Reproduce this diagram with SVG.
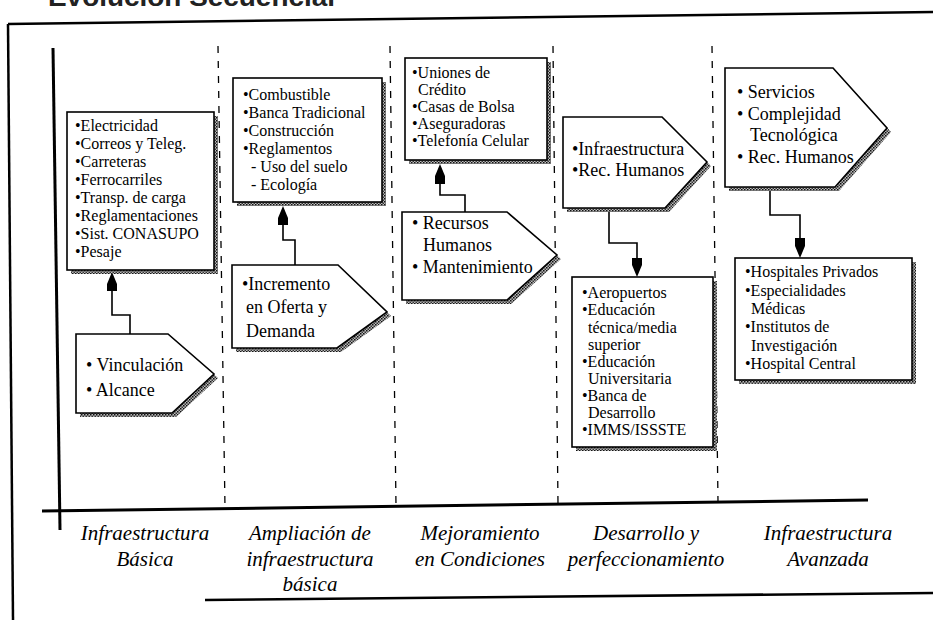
<svg xmlns="http://www.w3.org/2000/svg" width="933" height="620" viewBox="0 0 933 620">
  <defs>
    <pattern id="dither" width="3" height="3" patternUnits="userSpaceOnUse">
      <rect width="3" height="3" fill="#bbb"/>
      <rect width="1.5" height="1.5" fill="#111"/>
      <rect x="1.5" y="1.5" width="1.5" height="1.5" fill="#333"/>
    </pattern>
  </defs>
  <style>
    .frame { stroke: #000; stroke-width: 2.5; fill: none; }
    .axis { stroke: #000; stroke-width: 3; fill: none; }
    .divider { stroke: #000; stroke-width: 1.3; stroke-dasharray: 7 8; fill: none; }
    .box { fill: #fff; stroke: #000; stroke-width: 1.6; }
    .shadow { fill: url(#dither); stroke: none; }
    .link { fill: none; stroke: #000; stroke-width: 1.6; }
    .head { fill: #000; stroke: none; }
    .list { font-family: "Liberation Serif", "Times New Roman", serif; font-size: 16px; fill: #000; }
    .big { font-family: "Liberation Serif", "Times New Roman", serif; font-size: 18px; fill: #000; }
    .phase { font-family: "Liberation Serif", "Times New Roman", serif; font-size: 21px; font-style: italic; fill: #000; text-anchor: middle; }
    .title { font-family: "Liberation Sans", Arial, sans-serif; font-size: 26px; font-weight: bold; fill: #222; }
  </style>

  <!-- heading, cut by the page edge -->
  <text class="title" x="48" y="6" textLength="287" lengthAdjust="spacingAndGlyphs">Evolución Secuencial</text>

  <!-- page frame -->
  <g id="frame">
    <path class="frame" d="M8,24 L933,12"/>
    <path class="frame" d="M8,24 L13,620"/>
    <path class="frame" d="M205,600 L933,593"/>
  </g>

  <!-- time axes and phase dividers -->
  <g id="axes">
    <path class="axis" d="M53,48 L60,530"/>
    <path class="axis" d="M42,511 L868,500"/>
    <path class="divider" d="M218,46 L225,508"/>
    <path class="divider" d="M390,46 L396,506"/>
    <path class="divider" d="M553,46 L558,504"/>
    <path class="divider" d="M712,46 L718,502"/>
  </g>

  <!-- connectors -->
  <g id="connectors">
    <path class="link" d="M130,334 L130,315 L112,315 L112,288"/>
    <path class="head" d="M112,272 L117,284 L117,291 L107,291 L107,284 Z"/>

    <path class="link" d="M295,265 L295,240 L283,240 L283,222"/>
    <path class="head" d="M283,206 L288,218 L288,225 L278,225 L278,218 Z"/>

    <path class="link" d="M465,212 L465,195 L440,195 L440,182"/>
    <path class="head" d="M440,164 L445,176 L445,184 L435,184 L435,176 Z"/>

    <path class="link" d="M609,208 L609,243 L637,243 L637,260"/>
    <path class="head" d="M637,277 L642,265 L642,258 L632,258 L632,265 Z"/>

    <path class="link" d="M770,187 L770,215 L800,215 L800,240"/>
    <path class="head" d="M800,258 L805,246 L805,238 L795,238 L795,246 Z"/>
  </g>

  <!-- phase 1 -->
  <g id="basic-list">
    <rect class="shadow" x="71" y="116" width="147" height="158"/>
    <rect class="box" x="67" y="112" width="147" height="158"/>
    <text class="list" x="75" y="131">•Electricidad</text>
    <text class="list" x="75" y="149">•Correos y Teleg.</text>
    <text class="list" x="75" y="167">•Carreteras</text>
    <text class="list" x="75" y="185">•Ferrocarriles</text>
    <text class="list" x="75" y="203">•Transp. de carga</text>
    <text class="list" x="75" y="221">•Reglamentaciones</text>
    <text class="list" x="75" y="239">•Sist. CONASUPO</text>
    <text class="list" x="75" y="257">•Pesaje</text>
  </g>
  <g id="basic-drivers">
    <polygon class="shadow" points="80,338 172,338 218,378 176,417 80,417"/>
    <polygon class="box" points="76,334 168,334 214,374 172,413 76,413"/>
    <text class="big" x="86" y="371">• Vinculación</text>
    <text class="big" x="86" y="396">• Alcance</text>
  </g>

  <!-- phase 2 -->
  <g id="extension-list">
    <rect class="shadow" x="237" y="82" width="149" height="124"/>
    <rect class="box" x="233" y="78" width="149" height="124"/>
    <text class="list" x="243" y="100">•Combustible</text>
    <text class="list" x="243" y="118">•Banca Tradicional</text>
    <text class="list" x="243" y="136">•Construcción</text>
    <text class="list" x="243" y="154">•Reglamentos</text>
    <text class="list" x="251" y="172">- Uso del suelo</text>
    <text class="list" x="251" y="190">- Ecología</text>
  </g>
  <g id="extension-drivers">
    <polygon class="shadow" points="236,269 342,269 391,316 341,352 236,352"/>
    <polygon class="box" points="232,265 338,265 387,312 337,348 232,348"/>
    <text class="big" x="242" y="290">•Incremento</text>
    <text class="big" x="246" y="313">en Oferta y</text>
    <text class="big" x="246" y="337">Demanda</text>
  </g>

  <!-- phase 3 -->
  <g id="improvement-list">
    <rect class="shadow" x="409" y="62" width="142" height="102"/>
    <rect class="box" x="405" y="58" width="142" height="102"/>
    <text class="list" x="412" y="78">•Uniones de</text>
    <text class="list" x="418" y="95">Crédito</text>
    <text class="list" x="412" y="112">•Casas de Bolsa</text>
    <text class="list" x="412" y="129">•Aseguradoras</text>
    <text class="list" x="412" y="146">•Telefonía Celular</text>
  </g>
  <g id="improvement-drivers">
    <polygon class="shadow" points="406,216 511,216 561,259 511,304 406,304"/>
    <polygon class="box" points="402,212 507,212 557,255 507,300 402,300"/>
    <text class="big" x="412" y="229">• Recursos</text>
    <text class="big" x="423" y="251">Humanos</text>
    <text class="big" x="412" y="273">• Mantenimiento</text>
  </g>

  <!-- phase 4 -->
  <g id="development-drivers">
    <polygon class="shadow" points="567,121 666,121 711,166 669,212 567,212"/>
    <polygon class="box" points="563,117 662,117 707,162 665,208 563,208"/>
    <text class="big" x="572" y="155">•Infraestructura</text>
    <text class="big" x="572" y="176">•Rec. Humanos</text>
  </g>
  <g id="development-list">
    <rect class="shadow" x="576" y="281" width="141" height="170"/>
    <rect class="box" x="572" y="277" width="141" height="170"/>
    <text class="list" x="582" y="298">•Aeropuertos</text>
    <text class="list" x="582" y="315">•Educación</text>
    <text class="list" x="588" y="333">técnica/media</text>
    <text class="list" x="588" y="350">superior</text>
    <text class="list" x="582" y="367">•Educación</text>
    <text class="list" x="588" y="384">Universitaria</text>
    <text class="list" x="582" y="401">•Banca de</text>
    <text class="list" x="588" y="418">Desarrollo</text>
    <text class="list" x="582" y="435">•IMMS/ISSSTE</text>
  </g>

  <!-- phase 5 -->
  <g id="advanced-drivers">
    <polygon class="shadow" points="729,72 837,72 891,132 839,191 729,191"/>
    <polygon class="box" points="725,68 833,68 887,128 835,187 725,187"/>
    <text class="big" x="737" y="98">• Servicios</text>
    <text class="big" x="737" y="120">• Complejidad</text>
    <text class="big" x="750" y="141">Tecnológica</text>
    <text class="big" x="737" y="163">• Rec. Humanos</text>
  </g>
  <g id="advanced-list">
    <rect class="shadow" x="739" y="262" width="177" height="122"/>
    <rect class="box" x="735" y="258" width="177" height="122"/>
    <text class="list" x="745" y="277">•Hospitales Privados</text>
    <text class="list" x="745" y="296">•Especialidades</text>
    <text class="list" x="751" y="314">Médicas</text>
    <text class="list" x="745" y="332">•Institutos de</text>
    <text class="list" x="751" y="351">Investigación</text>
    <text class="list" x="745" y="369">•Hospital Central</text>
  </g>

  <!-- phase names under the axis -->
  <g id="phase-labels">
    <text class="phase" x="145" y="540">Infraestructura</text>
    <text class="phase" x="145" y="566">Básica</text>
    <text class="phase" x="310" y="540">Ampliación de</text>
    <text class="phase" x="310" y="566">infraestructura</text>
    <text class="phase" x="310" y="591">básica</text>
    <text class="phase" x="480" y="540">Mejoramiento</text>
    <text class="phase" x="480" y="566">en Condiciones</text>
    <text class="phase" x="646" y="540">Desarrollo y</text>
    <text class="phase" x="646" y="566">perfeccionamiento</text>
    <text class="phase" x="828" y="540">Infraestructura</text>
    <text class="phase" x="828" y="566">Avanzada</text>
  </g>
</svg>
